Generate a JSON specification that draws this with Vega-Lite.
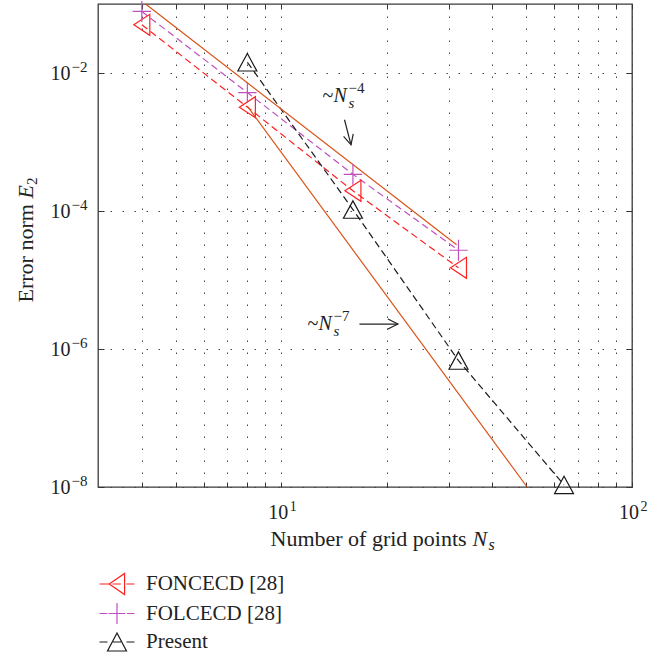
{
  "$schema": "https://vega.github.io/schema/vega-lite/v6.json",
  "width": 534,
  "height": 483,
  "autosize": {"type": "none"},
  "padding": {"left": 98, "top": 4, "right": 32, "bottom": 170},
  "background": "white",
  "config": {
    "font": "Liberation Serif",
    "axis": {"labelFont": "Liberation Serif", "titleFont": "Liberation Serif"},
    "legend": {"labelFont": "Liberation Serif", "titleFont": "Liberation Serif"},
    "text": {"font": "Liberation Serif"},
    "view": {"stroke": "#3a3a3a", "strokeWidth": 1.3}
  },
  "datasets": {
    "main": [
      {"series": "FONCECD [28]", "N": 4, "E": 0.05},
      {"series": "FONCECD [28]", "N": 8, "E": 0.0032},
      {"series": "FONCECD [28]", "N": 16, "E": 0.000196},
      {"series": "FONCECD [28]", "N": 32, "E": 0.000015},
      {"series": "FOLCECD [28]", "N": 4, "E": 0.078},
      {"series": "FOLCECD [28]", "N": 8, "E": 0.0052},
      {"series": "FOLCECD [28]", "N": 16, "E": 0.00034},
      {"series": "FOLCECD [28]", "N": 32, "E": 0.000027},
      {"series": "Present", "N": 8, "E": 0.0143},
      {"series": "Present", "N": 16, "E": 0.000105},
      {"series": "Present", "N": 32, "E": 6.8e-7},
      {"series": "Present", "N": 64, "E": 1.07e-8}
    ],
    "ref": [
      {"slope": "N^-4", "N": 4.1, "E": 0.1},
      {"slope": "N^-4", "N": 31.6, "E": 0.0000325},
      {"slope": "N^-7", "N": 8, "E": 0.0033},
      {"slope": "N^-7", "N": 50.2, "E": 1e-8}
    ],
    "ann": [
      {"N": 13.1, "E": 0.00375, "sup": "−4"},
      {"N": 11.87, "E": 0.00000186, "sup": "−7"}
    ],
    "arrows": [
      {"id": "a4", "N": 15.14, "E": 0.0021, "N2": 15.8, "E2": 0.00091},
      {"id": "a7", "N": 16.7, "E": 0.0000023, "N2": 21.5, "E2": 0.0000023}
    ]
  },
  "encoding": {
    "x": {"field": "N", "type": "quantitative", "scale": {"type": "log", "domain": [3, 100], "nice": false, "zero": false}, "axis": null},
    "y": {"field": "E", "type": "quantitative", "scale": {"type": "log", "domain": [1e-8, 0.1], "nice": false, "zero": false}, "axis": null}
  },
  "layer": [
    {
      "data": {"name": "main"},
      "transform": [{"filter": "datum.series == 'FONCECD [28]'"}],
      "mark": {"type": "line", "strokeDash": [7, 4], "strokeWidth": 1.2, "color": "#ff2020"},
      "encoding": {
        "x": {"field": "N", "type": "quantitative", "scale": {"type": "log", "domain": [3, 100], "nice": false, "zero": false},
          "axis": {"orient": "bottom", "values": [4, 5, 6, 7, 8, 9, 10, 20, 30, 40, 50, 60, 70, 80, 90, 100],
            "labelExpr": "datum.value == 10 || datum.value == 100 ? '10' : ''",
            "labelFlush": false, "labelOverlap": false, "labelFontSize": 20, "labelColor": "#222", "labelFont": "Liberation Serif",
            "labelPadding": 36, "labelBaseline": "alphabetic", "labelOffset": -3.5,
            "grid": true, "gridDash": [1.5, 10.5], "gridColor": "#444", "gridWidth": 1,
            "tickSize": -5, "tickColor": "#333", "domain": false,
            "title": "Number of grid points", "titleFont": "Liberation Serif", "titleFontSize": 22, "titleFontWeight": "normal", "titleColor": "#222",
            "titleX": 172, "titleY": 58, "titleAlign": "left", "titleBaseline": "alphabetic", "titleAngle": 0}},
        "y": {"field": "E", "type": "quantitative", "scale": {"type": "log", "domain": [1e-8, 0.1], "nice": false, "zero": false},
          "axis": {"orient": "left", "values": [1e-8, 1e-6, 1e-4, 1e-2],
            "labelExpr": "'10'",
            "labelOverlap": false, "labelFlush": false, "labelFontSize": 20, "labelColor": "#222", "labelFont": "Liberation Serif",
            "labelPadding": 34, "labelAlign": "right", "labelBaseline": "middle",
            "grid": true, "gridDash": [1.5, 10.5], "gridColor": "#444", "gridWidth": 1,
            "tickSize": -6, "tickColor": "#333", "domain": false,
            "title": "Error norm", "titleFont": "Liberation Serif", "titleFontSize": 22, "titleFontWeight": "normal", "titleColor": "#222",
            "titleX": -66, "titleY": 298, "titleAlign": "left", "titleBaseline": "alphabetic", "titleAngle": 270}}
      }
    },
    {
      "data": {"name": "main"},
      "transform": [{"filter": "datum.series == 'FOLCECD [28]'"}],
      "mark": {"type": "line", "strokeDash": [7, 4], "strokeWidth": 1.2, "color": "#c050c0"},
      "encoding": {
        "x": {"field": "N", "type": "quantitative", "scale": {"type": "log", "domain": [3, 100], "nice": false, "zero": false},
          "axis": {"orient": "top", "values": [4, 5, 6, 7, 8, 9, 10, 20, 30, 40, 50, 60, 70, 80, 90, 100], "labels": false, "grid": false, "tickSize": -5, "tickColor": "#333", "domain": false, "title": null}},
        "y": {"field": "E", "type": "quantitative", "scale": {"type": "log", "domain": [1e-8, 0.1], "nice": false, "zero": false},
          "axis": {"orient": "right", "values": [1e-8, 1e-6, 1e-4, 1e-2], "labels": false, "grid": false, "tickSize": -6, "tickColor": "#333", "domain": false, "title": null}}
      }
    },
    {
      "data": {"name": "main"},
      "transform": [{"filter": "datum.series == 'Present'"}],
      "mark": {"type": "line", "strokeDash": [7, 4], "strokeWidth": 1.2, "color": "#1a1a1a"},
      "encoding": {
        "x": {"field": "N", "type": "quantitative", "scale": {"type": "log", "domain": [3, 100], "nice": false, "zero": false},
          "axis": {"orient": "bottom", "values": [10, 100],
            "labelExpr": "datum.value == 10 ? '1' : '2'",
            "labelFlush": false, "labelOverlap": false, "labelFontSize": 14, "labelColor": "#222", "labelFont": "Liberation Serif",
            "labelPadding": 23, "labelBaseline": "alphabetic", "labelAlign": "left", "labelOffset": 8,
            "grid": false, "ticks": false, "tickSize": 0, "domain": false, "title": null}},
        "y": {"field": "E", "type": "quantitative", "scale": {"type": "log", "domain": [1e-8, 0.1], "nice": false, "zero": false},
          "axis": {"orient": "left", "values": [1e-8, 1e-6, 1e-4, 1e-2],
            "labelExpr": "datum.value < 5e-8 ? '−8' : datum.value < 5e-6 ? '−6' : datum.value < 5e-4 ? '−4' : '−2'",
            "labelOverlap": false, "labelFlush": false, "labelFontSize": 15, "labelColor": "#222", "labelFont": "Liberation Serif",
            "labelPadding": 27, "labelAlign": "left", "labelBaseline": "middle", "labelOffset": -7,
            "grid": false, "ticks": false, "tickSize": 0, "domain": false, "title": null}}
      }
    },
    {
      "data": {"name": "ref"},
      "mark": {"type": "line", "color": "#d95319", "strokeWidth": 1.2},
      "encoding": {
        "x": {"field": "N", "type": "quantitative", "scale": {"type": "log", "domain": [3, 100], "nice": false, "zero": false},
          "axis": {"orient": "bottom", "values": [10], "labels": false, "ticks": false, "tickSize": 0, "grid": false, "domain": false,
            "title": "N", "titleFont": "Liberation Serif", "titleFontSize": 22, "titleFontWeight": "normal", "titleFontStyle": "italic", "titleColor": "#222",
            "titleX": 374, "titleY": 58, "titleAlign": "left", "titleBaseline": "alphabetic", "titleAngle": 0}},
        "y": {"field": "E", "type": "quantitative", "scale": {"type": "log", "domain": [1e-8, 0.1], "nice": false, "zero": false},
          "axis": {"orient": "left", "values": [1e-2], "labels": false, "ticks": false, "tickSize": 0, "grid": false, "domain": false,
            "title": "E", "titleFont": "Liberation Serif", "titleFontSize": 22, "titleFontWeight": "normal", "titleFontStyle": "italic", "titleColor": "#222",
            "titleX": -66, "titleY": 194, "titleAlign": "left", "titleBaseline": "alphabetic", "titleAngle": 270}},
        "detail": {"field": "slope", "type": "nominal"}
      }
    },
    {
      "data": {"name": "main"},
      "transform": [{"filter": "datum.series == 'FONCECD [28]'"}],
      "mark": {"type": "point", "shape": "M-0.8,0L0.8,-1.05L0.8,1.05Z", "size": 400, "filled": false, "opacity": 1, "strokeWidth": 1.2, "color": "#ff2020"},
      "encoding": {
        "x": {"field": "N", "type": "quantitative", "scale": {"type": "log", "domain": [3, 100], "nice": false, "zero": false},
          "axis": {"orient": "bottom", "values": [10], "labels": false, "ticks": false, "tickSize": 0, "grid": false, "domain": false,
            "title": "s", "titleFont": "Liberation Serif", "titleFontSize": 16, "titleFontWeight": "normal", "titleFontStyle": "italic", "titleColor": "#222",
            "titleX": 390, "titleY": 62, "titleAlign": "left", "titleBaseline": "alphabetic", "titleAngle": 0}},
        "y": {"field": "E", "type": "quantitative", "scale": {"type": "log", "domain": [1e-8, 0.1], "nice": false, "zero": false},
          "axis": {"orient": "left", "values": [1e-2], "labels": false, "ticks": false, "tickSize": 0, "grid": false, "domain": false,
            "title": "2", "titleFont": "Liberation Serif", "titleFontSize": 15, "titleFontWeight": "normal", "titleColor": "#222",
            "titleX": -62, "titleY": 180.6, "titleAlign": "left", "titleBaseline": "alphabetic", "titleAngle": 270}}
      }
    },
    {
      "data": {"name": "main"},
      "transform": [{"filter": "datum.series == 'FOLCECD [28]'"}],
      "mark": {"type": "point", "shape": "M-0.92,0H0.92M0,-1.05V1.05", "size": 400, "filled": false, "opacity": 1, "strokeWidth": 1.2, "color": "#c050c0"}
    },
    {
      "data": {"name": "main"},
      "transform": [{"filter": "datum.series == 'Present'"}],
      "mark": {"type": "point", "shape": "M0,-0.87L0.95,0.87L-0.95,0.87Z", "size": 400, "filled": false, "opacity": 1, "strokeWidth": 1.2, "color": "#1a1a1a"}
    },
    {
      "data": {"name": "main"},
      "mark": {"type": "point", "filled": false, "opacity": 0, "strokeWidth": 1.2},
      "encoding": {
        "color": {"field": "series", "type": "nominal",
          "scale": {"domain": ["FONCECD [28]", "FOLCECD [28]", "Present"], "range": ["#ff2020", "#c050c0", "#1a1a1a"]},
          "legend": {"orient": "none", "legendX": 8, "legendY": 569, "title": null, "padding": 0,
            "labelFont": "Liberation Serif", "labelFontSize": 21, "labelColor": "#222", "labelOffset": 18, "symbolSize": 400, "symbolStrokeWidth": 1.2, "symbolOpacity": 1, "rowPadding": 3.5}},
        "shape": {"field": "series", "type": "nominal",
          "scale": {"domain": ["FONCECD [28]", "FOLCECD [28]", "Present"],
            "range": [
              "M-1.75,0H-0.8M-0.45,0H0.38M0.95,0H1.75M-0.78,0L0.76,-1.05L0.76,1.05Z",
              "M-1.75,0H-0.95M-0.85,0H0.85M0,-1.05V1.05M1.0,0H1.75",
              "M-1.75,0H-0.95M-0.4,0H0.4M0.95,0H1.75M0,-0.9L0.95,0.9L-0.95,0.9Z"
            ]},
          "legend": {"orient": "none", "legendX": 8, "legendY": 569, "title": null, "padding": 0,
            "labelFont": "Liberation Serif", "labelFontSize": 21, "labelColor": "#222", "labelOffset": 18, "symbolSize": 400, "symbolStrokeWidth": 1.2, "symbolOpacity": 1, "rowPadding": 3.5}}
      }
    },
    {
      "data": {"name": "arrows"},
      "mark": {"type": "rule", "color": "#222", "strokeWidth": 1.2},
      "encoding": {
        "x2": {"field": "N2"},
        "y2": {"field": "E2"}
      }
    },
    {
      "data": {"name": "arrows"},
      "transform": [{"filter": "datum.id == 'a4'"}],
      "mark": {"type": "point", "shape": "M-1,-0.5L0,0L-1,0.5", "size": 400, "filled": false, "opacity": 1, "strokeWidth": 1.2, "color": "#222", "angle": 75},
      "encoding": {"x": {"field": "N2", "type": "quantitative", "scale": {"type": "log", "domain": [3, 100], "nice": false, "zero": false}, "axis": null},
        "y": {"field": "E2", "type": "quantitative", "scale": {"type": "log", "domain": [1e-8, 0.1], "nice": false, "zero": false}, "axis": null}}
    },
    {
      "data": {"name": "arrows"},
      "transform": [{"filter": "datum.id == 'a7'"}],
      "mark": {"type": "point", "shape": "M-1,-0.5L0,0L-1,0.5", "size": 400, "filled": false, "opacity": 1, "strokeWidth": 1.2, "color": "#222", "angle": 0},
      "encoding": {"x": {"field": "N2", "type": "quantitative", "scale": {"type": "log", "domain": [3, 100], "nice": false, "zero": false}, "axis": null},
        "y": {"field": "E2", "type": "quantitative", "scale": {"type": "log", "domain": [1e-8, 0.1], "nice": false, "zero": false}, "axis": null}}
    },
    {
      "data": {"name": "ann"},
      "mark": {"type": "text", "text": "~", "font": "Liberation Serif", "fontSize": 20, "align": "left", "baseline": "alphabetic", "color": "#222"}
    },
    {
      "data": {"name": "ann"},
      "mark": {"type": "text", "text": "N", "font": "Liberation Serif", "fontSize": 20, "fontStyle": "italic", "align": "left", "baseline": "alphabetic", "dx": 11, "color": "#222"}
    },
    {
      "data": {"name": "ann"},
      "mark": {"type": "text", "text": "s", "font": "Liberation Serif", "fontSize": 15, "fontStyle": "italic", "align": "left", "baseline": "alphabetic", "dx": 26, "dy": 6, "color": "#222"}
    },
    {
      "data": {"name": "ann"},
      "mark": {"type": "text", "font": "Liberation Serif", "fontSize": 15, "align": "left", "baseline": "alphabetic", "dx": 26, "dy": -9, "color": "#222"},
      "encoding": {"text": {"field": "sup", "type": "nominal"}}
    }
  ],
  "resolve": {"axis": {"x": "independent", "y": "independent"}}
}
